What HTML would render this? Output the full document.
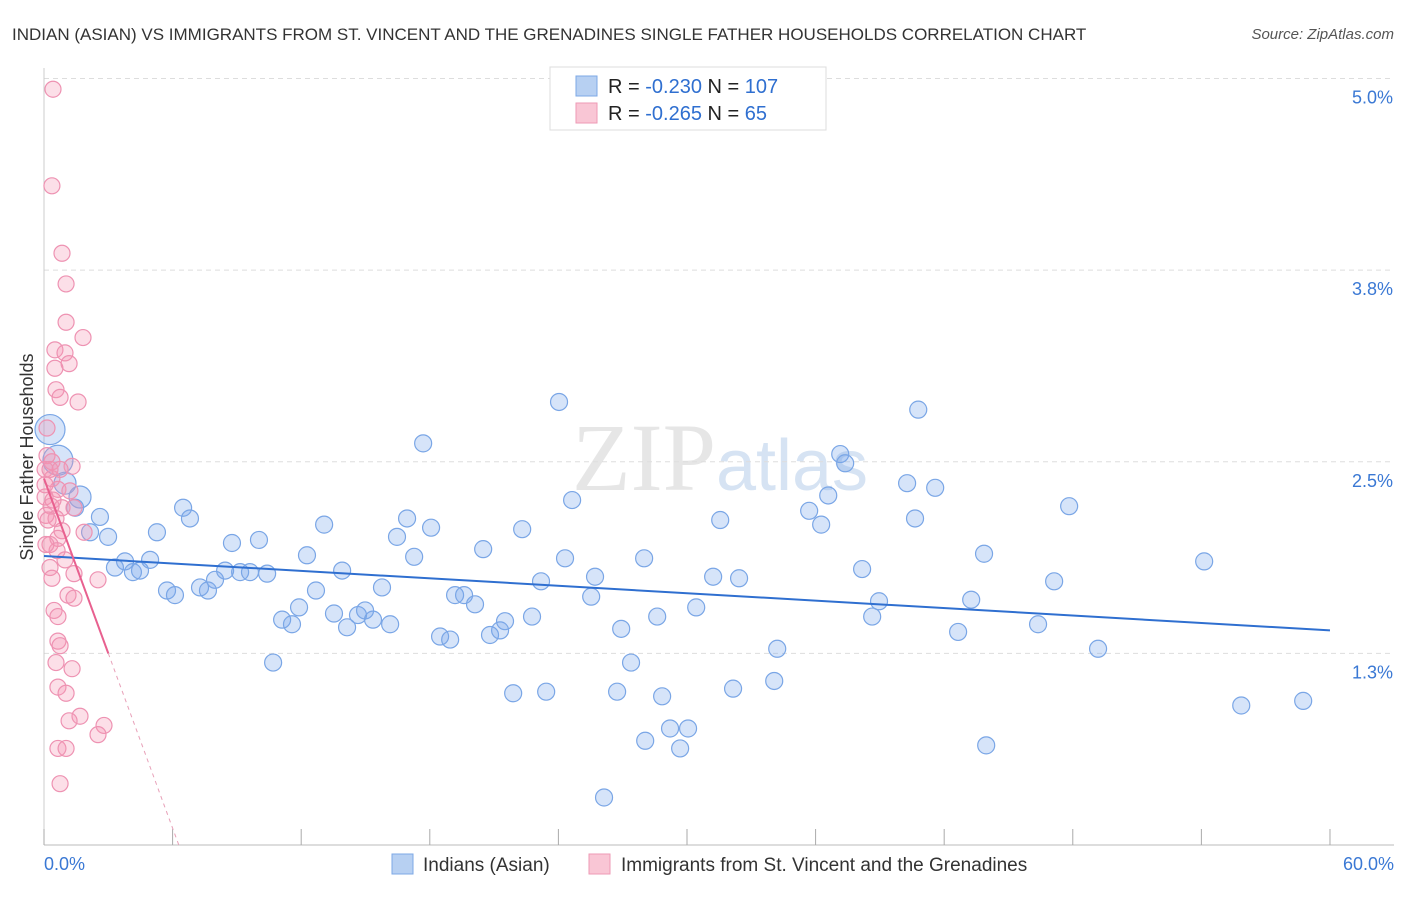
<!DOCTYPE html>
<html><head><meta charset="utf-8"><style>
body{margin:0;background:#fff;font-family:"Liberation Sans",Arial,sans-serif;}
svg text{font-family:"Liberation Sans",Arial,sans-serif;}
</style></head><body>
<svg id="chart" width="1406" height="892" viewBox="0 0 1406 892" xmlns="http://www.w3.org/2000/svg">
<text x="12" y="40" font-size="17" fill="#333">INDIAN (ASIAN) VS IMMIGRANTS FROM ST. VINCENT AND THE GRENADINES SINGLE FATHER HOUSEHOLDS CORRELATION CHART</text>
<text x="1394" y="39" font-size="15" fill="#555" font-style="italic" text-anchor="end">Source: ZipAtlas.com</text>
<text x="720" y="490" font-size="96" fill="#e6e6e6" text-anchor="middle" font-family="Liberation Serif"><tspan font-family="Liberation Serif">ZIP</tspan><tspan fill="#d6e3f3" font-family="Liberation Sans" font-size="72">atlas</tspan></text>
<g id="grid"></g>
<g id="axes"></g>
<g id="pts"></g>
<g id="lines"></g>
<text transform="translate(33,457) rotate(-90)" font-size="18" fill="#333" text-anchor="middle">Single Father Households</text>
<g>
<rect x="550" y="67" width="276" height="63" fill="#fff" stroke="#ddd"/>
<rect x="576" y="76" width="21" height="20" fill="#b7d0f2" stroke="#7da8e6"/>
<rect x="576" y="103" width="21" height="20" fill="#f9c6d5" stroke="#ee9ab5"/>
<text x="608" y="93" font-size="20" fill="#222">R = <tspan fill="#2f6fd0">-0.230</tspan>   N = <tspan fill="#2f6fd0">107</tspan></text>
<text x="608" y="120" font-size="20" fill="#222">R = <tspan fill="#2f6fd0">-0.265</tspan>   N = <tspan fill="#2f6fd0">  65</tspan></text>
</g>
<g>
<rect x="392" y="854" width="21" height="20" fill="#b7d0f2" stroke="#7da8e6"/>
<text x="423" y="871" font-size="19" fill="#333">Indians (Asian)</text>
<rect x="589" y="854" width="21" height="20" fill="#f9c6d5" stroke="#ee9ab5"/>
<text x="621" y="871" font-size="19" fill="#333">Immigrants from St. Vincent and the Grenadines</text>
</g>
</svg>
<script>
const xTickVals=[0,6,12,18,24,30,36,42,48,54,60];
const yTickVals=[5.0,3.75,2.5,1.25];
const yTickLabels=["5.0%","3.8%","2.5%","1.3%"];
const xEndLabels=["0.0%","60.0%"];
const blueX=[0.28,0.65,0.98,1.68,1.45,2.61,2.15,2.99,3.31,3.78,4.15,4.48,4.95,5.27,5.74,6.11,6.49,6.81,7.28,7.65,7.98,8.45,8.77,9.15,9.61,10.03,10.41,10.69,11.11,11.57,11.90,12.27,12.69,13.07,13.53,13.91,14.14,14.65,14.98,15.35,15.77,16.15,16.47,16.94,17.27,17.69,18.06,18.48,18.95,19.18,19.60,20.11,20.49,20.81,21.28,21.51,21.89,22.31,22.77,23.19,23.43,24.03,24.31,24.64,25.53,25.71,26.13,26.74,26.93,27.39,28.00,28.05,28.61,28.84,29.21,29.68,30.05,30.43,31.22,31.55,32.15,32.43,34.07,34.21,35.70,36.26,36.59,37.15,37.38,38.17,38.64,38.96,40.27,40.64,40.79,41.58,42.65,43.26,43.86,43.96,46.38,47.13,47.83,49.18,54.13,55.86,58.75];
const blueY=[2.71,2.51,2.36,2.27,2.20,2.14,2.04,2.01,1.81,1.85,1.78,1.79,1.86,2.04,1.66,1.63,2.20,2.13,1.68,1.66,1.73,1.79,1.97,1.78,1.78,1.99,1.77,1.19,1.47,1.44,1.55,1.89,1.66,2.09,1.51,1.79,1.42,1.50,1.53,1.47,1.68,1.44,2.01,2.13,1.88,2.62,2.07,1.36,1.34,1.63,1.63,1.57,1.93,1.37,1.40,1.46,0.99,2.06,1.49,1.72,1.00,2.89,1.87,2.25,1.62,1.75,0.31,1.00,1.41,1.19,1.87,0.68,1.49,0.97,0.76,0.63,0.76,1.55,1.75,2.12,1.02,1.74,1.07,1.28,2.18,2.09,2.28,2.55,2.49,1.80,1.49,1.59,2.36,2.13,2.84,2.33,1.39,1.60,1.90,0.65,1.44,1.72,2.21,1.28,1.85,0.91,0.94];
const pinkX=[0.42,0.37,0.84,1.03,1.03,1.82,0.51,0.98,1.17,0.51,0.56,0.75,1.59,0.14,0.14,0.37,1.31,0.05,0.37,0.65,1.21,0.05,0.33,0.84,1.40,0.09,0.56,0.84,1.87,0.65,0.28,0.61,0.28,0.37,1.40,2.52,1.12,1.40,0.47,0.65,0.65,0.75,1.31,0.56,0.65,1.03,1.68,1.17,2.80,2.52,0.65,1.03,0.75,0.09,0.19,0.42,0.05,0.28,0.75,0.98];
const pinkY=[4.93,4.30,3.86,3.66,3.41,3.31,3.23,3.21,3.14,3.11,2.97,2.92,2.89,2.72,2.54,2.50,2.47,2.45,2.39,2.32,2.31,2.27,2.21,2.20,2.20,2.15,2.13,2.05,2.04,2.00,1.96,1.92,1.81,1.74,1.77,1.73,1.63,1.61,1.53,1.49,1.33,1.30,1.15,1.19,1.03,0.99,0.84,0.81,0.78,0.72,0.63,0.63,0.40,1.96,2.12,2.25,2.35,2.45,2.45,1.86];
const blueFit=[1.885,1.40];
const pinkFit=[2.39,-0.38];
const sx=v=>44+v*21.433, sy=v=>845-v*153.3;
const NS="http://www.w3.org/2000/svg";
function mk(tag,attrs,parent){const e=document.createElementNS(NS,tag);for(const k in attrs)e.setAttribute(k,attrs[k]);parent.appendChild(e);return e;}
const grid=document.getElementById('grid'),axes=document.getElementById('axes'),pts=document.getElementById('pts'),lines=document.getElementById('lines');
yTickVals.forEach((v,i)=>{
 const l=mk('line',{x1:44,x2:1394,y1:sy(v),y2:sy(v),stroke:'#ddd','stroke-dasharray':'5,4'},grid);
 
 
 const t=mk('text',{x:1393,y:sy(v)+25,'font-size':18,fill:'#3a78d4','text-anchor':'end'},axes);
 t.textContent=yTickLabels[i];
 
 
});
const ax=mk('line',{x1:44,x2:1394,y1:845,y2:845,stroke:'#bbb'},axes);


const ay=mk('line',{x1:44,x2:44,y1:68,y2:845,stroke:'#ccc'},axes);


xTickVals.forEach(v=>{
 const t=mk('line',{x1:sx(v),x2:sx(v),y1:829,y2:845,stroke:'#aaa'},axes);
 
 
});
[[0,'start',44],[60,'end',1394]].forEach((a,i)=>{
 const t=mk('text',{x:a[2],y:870,'font-size':18,fill:'#3a78d4','text-anchor':a[1]},axes);
 t.textContent=xEndLabels[i];
 
 
});
blueX.forEach((x,i)=>{
 const r=i<2?15:(i<4?11:8.5);
 const c=mk('circle',{cx:sx(x),cy:sy(blueY[i]),r:r,fill:'rgba(120,165,235,0.3)',stroke:'#7aa6e6','stroke-width':1.2},pts);
 
 
});
pinkX.forEach((x,i)=>{
 const c=mk('circle',{cx:sx(x),cy:sy(pinkY[i]),r:8,fill:'rgba(245,150,180,0.3)',stroke:'#ee92b2','stroke-width':1.2},pts);
 
 
});
const bl=mk('line',{x1:sx(0),y1:sy(blueFit[0]),x2:sx(60),y2:sy(blueFit[1]),stroke:'#2f6fd0','stroke-width':2},lines);


const pe=3, pz=-pinkFit[0]/pinkFit[1];
const pl=mk('line',{x1:sx(0),y1:sy(pinkFit[0]),x2:sx(pe),y2:sy(pinkFit[0]+pinkFit[1]*pe),stroke:'#e8608f','stroke-width':2},lines);


const pd=mk('line',{x1:sx(pe),y1:sy(pinkFit[0]+pinkFit[1]*pe),x2:sx(pz),y2:sy(0),stroke:'#e8a0b8','stroke-width':1,'stroke-dasharray':'4,4'},lines);


</script>
</body></html>
